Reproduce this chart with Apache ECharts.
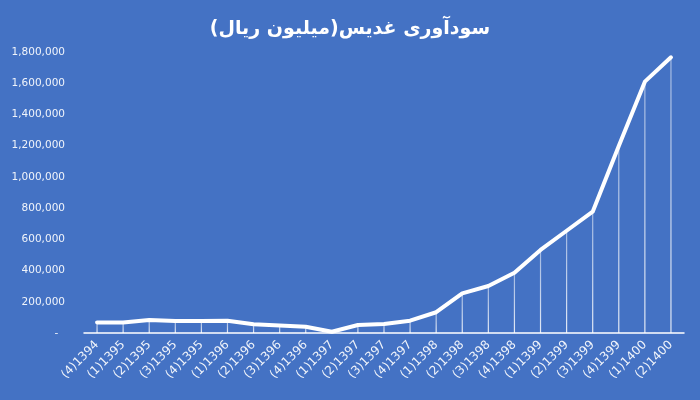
<!DOCTYPE html>
<html>
<head>
<meta charset="utf-8">
<script src="https://cdn.jsdelivr.net/npm/echarts@6/dist/echarts.min.js"></script>
<style>
  html, body { margin: 0; padding: 0; background: #4472c4; }
  #chart { width: 700px; height: 400px; }
</style>
</head>
<body>
<div id="chart"></div>
<script>
// quarters (season)year
const quarters = [
    '(4)1394', '(1)1395', '(2)1395', '(3)1395', '(4)1395',
    '(1)1396', '(2)1396', '(3)1396', '(4)1396',
    '(1)1397', '(2)1397', '(3)1397', '(4)1397',
    '(1)1398', '(2)1398', '(3)1398', '(4)1398',
    '(1)1399', '(2)1399', '(3)1399', '(4)1399',
    '(1)1400', '(2)1400'
];

// profitability, million rials
const profit = [
    68000, 67000, 83000, 77000, 77000,
    79000, 56000, 48000, 40000,
    8000, 51000, 58000, 79000,
    133000, 254000, 301000, 386000,
    532000, 655000, 777000, 1198000,
    1610000, 1766000
];

const yTicks = { min: 0, max: 1800000, step: 200000 };

const titleText = 'سودآوری غدیس(میلیون ریال)';

const chart = echarts.init(document.getElementById('chart'));

const labelColor = 'rgba(255,255,255,0.92)';

const option = {
    backgroundColor: '#4472c4',
    title: {
        text: titleText,
        left: 'center',
        top: 15,
        textStyle: {
            color: '#ffffff',
            fontSize: 19,
            fontWeight: 'bold',
            fontFamily: 'DejaVu Sans',
        },
    },
    grid: {
        left: 84,
        right: 16,
        top: 52,
        bottom: 67,
    },
    xAxis: {
        type: 'category',
        data: quarters,
        boundaryGap: true,
        axisLine: { lineStyle: { color: '#ffffff', width: 1.5 } },
        axisTick: { show: false },
        axisLabel: {
            rotate: 45,
            interval: 0,
            color: labelColor,
            fontSize: 12,
            fontFamily: 'DejaVu Sans',
            margin: 10,
        },
        splitLine: { show: false },
    },
    yAxis: {
        type: 'value',
        min: yTicks.min,
        max: yTicks.max,
        interval: yTicks.step,
        axisLine: { show: false },
        axisTick: { show: false },
        splitLine: { show: false },
        axisLabel: {
            color: labelColor,
            fontSize: 10.5,
            fontFamily: 'DejaVu Sans',
            margin: 19,
            // accounting style: zero shown as a dash
            formatter: v => v === 0 ? '-  ' : v.toLocaleString('en-US'),
        },
    },
    series: [
        {
            // drop lines from each point down to the axis
            type: 'bar',
            data: profit,
            barWidth: 1.2,
            silent: true,
            itemStyle: {
                color: new echarts.graphic.LinearGradient(0, 0, 0, 1, [
                    { offset: 0, color: 'rgba(255,255,255,0.5)' },
                    { offset: 1, color: 'rgba(255,255,255,0.85)' },
                ]),
            },
            z: 1,
        },
        {
            type: 'line',
            data: profit,
            symbol: 'none',
            lineStyle: { color: '#ffffff', width: 4, cap: 'round', join: 'round' },
            z: 3,
        },
    ],
    animation: false,
};

chart.setOption(option);
</script>
</body>
</html>
